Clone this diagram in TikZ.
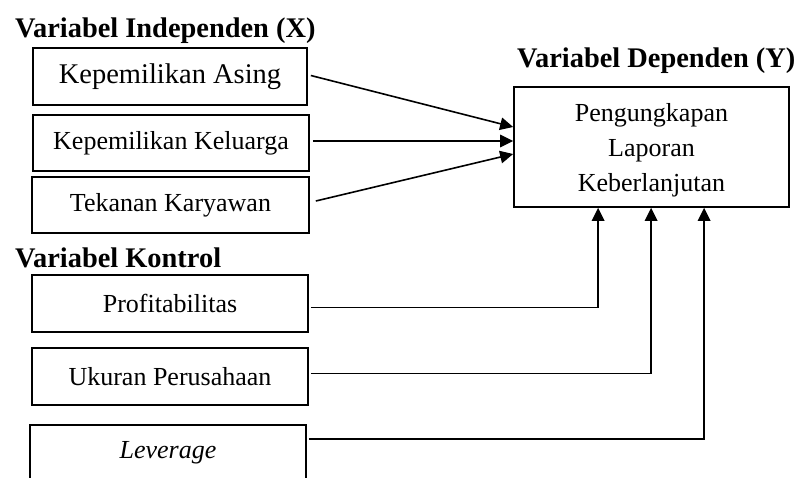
\documentclass[tikz,border=0pt]{standalone}
\usepackage{fontspec}
\setmainfont{Liberation Serif}
\usetikzlibrary{arrows.meta,calc}
\begin{document}
\begin{tikzpicture}[x=1pt,y=-1pt,
  varbox/.style={draw,line width=1.7pt,inner sep=0pt,align=center,
    font=\fontsize{26}{30}\selectfont},
  grouptitle/.style={anchor=base west,inner sep=0pt,font=\fontsize{28.4}{32}\selectfont\bfseries},
  link/.style={line width=1.6pt,-{Triangle[length=13pt,width=12.5pt]}}]
\clip (0,0) rectangle (800,477);
\fill[white] (0,0) rectangle (800,477);

\node[grouptitle] (tx) at (15,37) {Variabel Independen (X)};
\node[grouptitle] (ty) at (517,67) {Variabel Dependen (Y)};
\node[grouptitle] (tk) at (15,267) {Variabel Kontrol};

\node[varbox,minimum width=274pt,minimum height=57pt,font=\fontsize{28.5}{32}\selectfont] (x1) at (170,76.5) {Kepemilikan Asing};
\node[varbox,minimum width=276pt,minimum height=56pt] (x2) at (171,143) {Kepemilikan Keluarga};
\node[varbox,minimum width=277pt,minimum height=56pt] (x3) at (170.5,205) {Tekanan Karyawan};

\node[varbox,minimum width=276pt,minimum height=57pt] (k1) at (170,303.5) {Profitabilitas};
\node[varbox,minimum width=276pt,minimum height=57pt] (k2) at (170,376.5) {Ukuran Perusahaan};
\node[varbox,minimum width=276pt,minimum height=60pt,text depth=10pt] (k3) at (168,455) {\itshape Leverage};

\node[varbox,minimum width=275pt,minimum height=120pt,font=\fontsize{26}{35}\selectfont] (dep) at (651.5,147) {\rule{0pt}{25pt}Pengungkapan\\Laporan\\Keberlanjutan};

\coordinate (e1) at ($(dep.west)+(0,-20)$);
\coordinate (e2) at ($(dep.west)+(0,-6)$);
\coordinate (e3) at ($(dep.west)+(0,7)$);
\coordinate (u1) at ($(dep.south west)+(85,0)$);
\coordinate (u2) at ($(dep.south west)+(138,0)$);
\coordinate (u3) at ($(dep.south west)+(191,0)$);

\draw[link] ($(x1.east)+(3,-1)$) -- (e1);
\draw[link] ($(x2.east)+(3,-2)$) -- (e2);
\draw[link] ($(x3.east)+(6,-4)$) -- (e3);

\draw[link] ($(k1.east)+(2,4)$) -| (u1);
\draw[link] ($(k2.east)+(2,-3)$) -| (u2);
\draw[link] ($(k3.east)+(2,-16)$) -| (u3);
\end{tikzpicture}
\end{document}
